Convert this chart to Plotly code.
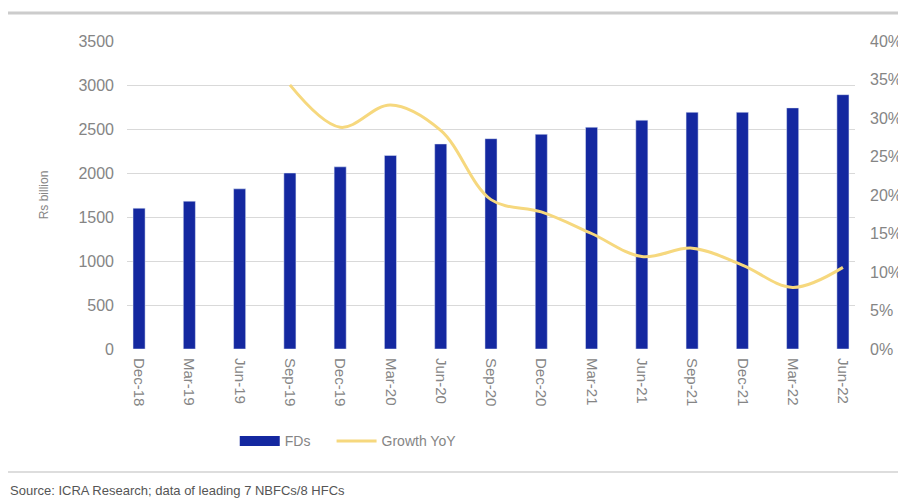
import plotly.graph_objs as go

quarters = ['Dec-18', 'Mar-19', 'Jun-19', 'Sep-19', 'Dec-19', 'Mar-20', 'Jun-20', 'Sep-20',
            'Dec-20', 'Mar-21', 'Jun-21', 'Sep-21', 'Dec-21', 'Mar-22', 'Jun-22']
fds = [1600, 1680, 1820, 2000, 2070, 2200, 2330, 2390, 2440, 2520, 2600, 2690, 2690, 2740, 2890]
growth_yoy = [None, None, None, 34.3, 28.8, 31.7, 28.4, 19.4, 17.8, 15.0, 12.0, 13.1, 10.9, 8.0, 10.6]

grey = '#858585'
bar_blue = '#1428a0'
fig = go.Figure()
fig.add_trace(go.Bar(x=quarters, y=fds, name='FDs', marker=dict(color=bar_blue), showlegend=False,
                     width=0.24))
# wide swatch for the legend, like the original
fig.add_trace(go.Scatter(x=[None], y=[None], name='FDs', mode='lines',
                         line=dict(color=bar_blue, width=10), legend='legend'))
fig.add_trace(go.Scatter(x=quarters, y=growth_yoy, name='Growth YoY', yaxis='y2', mode='lines',
                         line=dict(color='#f6d87e', width=3, shape='spline'), legend='legend2'))

legend_style = dict(orientation='h', y=-0.3, xanchor='left', yanchor='middle',
                    font=dict(size=14, color=grey), itemwidth=40, bgcolor='rgba(0,0,0,0)')

# page adds 8px body margin, so the figure is drawn a bit smaller
fig.update_layout(
    width=898, height=493,
    margin=dict(l=119, r=51, t=33, b=152),
    paper_bgcolor='white', plot_bgcolor='white',
    font=dict(family='Liberation Sans, Arial', size=14, color=grey),
    showlegend=True,
    legend=dict(x=0.148, **legend_style),
    legend2=dict(x=0.281, **legend_style),
    xaxis=dict(range=[-0.24, 14.24], tickangle=90, showgrid=False, showline=False, ticks='',
               tickfont=dict(size=15), ticklabelstandoff=8, automargin=False),
    yaxis=dict(range=[0, 3500], dtick=500, tickformat='d', showgrid=True, gridcolor='#d9d9d9',
               zeroline=False, tickfont=dict(size=16), ticklabelstandoff=12, automargin=False,
               title=dict(text='Rs billion', font=dict(size=12, color=grey), standoff=27)),
    yaxis2=dict(range=[0, 40], dtick=5, ticksuffix='%', overlaying='y', side='right',
                showgrid=False, zeroline=False, tickfont=dict(size=16), ticklabelstandoff=14,
                automargin=False),
    shapes=[
        dict(type='line', xref='paper', yref='paper', x0=-0.2, x1=1.1, y0=1.091, y1=1.091,
             line=dict(color='#cccccc', width=3)),
        dict(type='line', xref='paper', yref='paper', x0=-0.2, x1=1.1, y0=-0.399, y1=-0.399,
             line=dict(color='#dddddd', width=2)),
    ],
    annotations=[
        dict(text='Source: ICRA Research; data of leading 7 NBFCs/8 HFCs', xref='paper', yref='paper',
             x=-0.163, y=-0.458, xanchor='left', yanchor='middle', showarrow=False,
             font=dict(size=13, color='#555555')),
    ],
)

fig.write_html("out.html")
